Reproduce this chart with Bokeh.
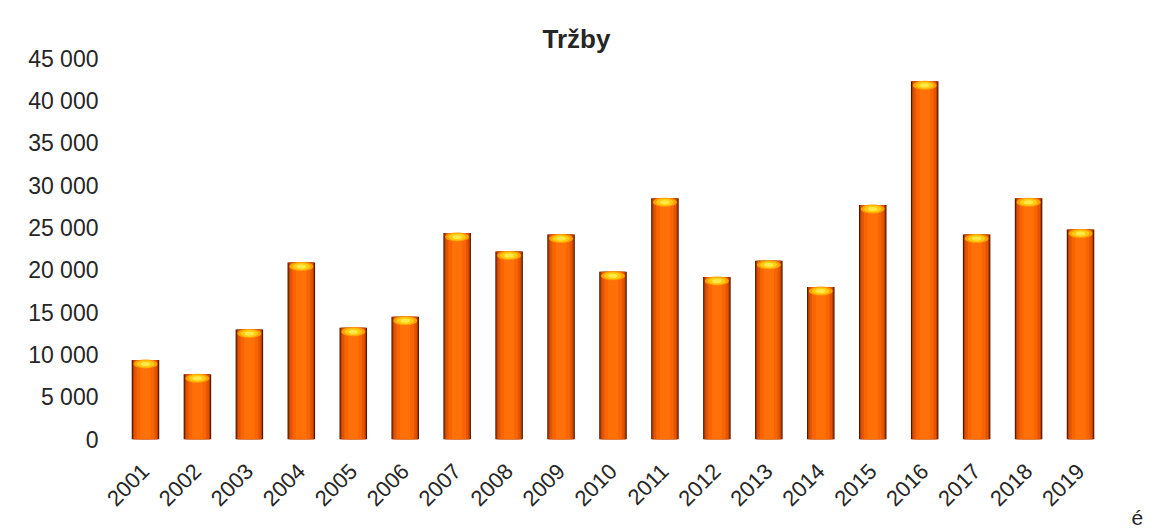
import math
from bokeh.plotting import figure
from bokeh.models import ColumnDataSource, FixedTicker, Title
from bokeh.embed import file_html
from bokeh.resources import INLINE

years = ["2001", "2002", "2003", "2004", "2005", "2006", "2007", "2008", "2009", "2010",
         "2011", "2012", "2013", "2014", "2015", "2016", "2017", "2018", "2019"]
sales = [9400, 7700, 13000, 20900, 13200, 14500, 24400, 22200, 24200, 19800,
         28500, 19200, 21100, 18000, 27700, 42300, 24200, 28500, 24800]
y_ticks = [0, 5000, 10000, 15000, 20000, 25000, 30000, 35000, 40000, 45000]
y_tick_labels = ["0", "5 000", "10 000", "15 000", "20 000", "25 000", "30 000",
                 "35 000", "40 000", "45 000"]
title_text = "Tržby"
stray_text = "é"

FONT = "Liberation Sans"
TXT = "#262626"

# cap centre slightly below bar top (data units ~ 4 px)
px = 45000 / 381.0
src = ColumnDataSource(dict(year=years, v=sales, cap=[s - 4.0 * px for s in sales]))

p = figure(x_range=years, y_range=(0, 45000), width=1150, height=530,
           output_backend="svg", toolbar_location=None,
           min_border_left=119, min_border_right=44, min_border_top=58, min_border_bottom=91)
p.background_fill_color = "white"
p.border_fill_color = "white"
p.outline_line_color = None
p.xgrid.grid_line_color = None
p.ygrid.grid_line_color = None
p.x_range.range_padding = 0

# cylinder-like bars: layered vbars
p.vbar(x="year", top="v", bottom=0, width=0.53, source=src, fill_color="#4a1800", line_color=None)
p.vbar(x="year", top="v", bottom=0, width=0.49, source=src, fill_color="#b83e00", line_color=None)
p.vbar(x="year", top="v", bottom=0, width=0.44, source=src, fill_color="#e45400", line_color=None)
p.vbar(x="year", top="v", bottom=0, width=0.34, source=src, fill_color="#f86400", line_color=None)
p.vbar(x="year", top="v", bottom=0, width=0.20, source=src, fill_color="#ff7008", line_color=None)
p.ellipse(x="year", y="cap", width=0.46, height=9, height_units="screen", source=src,
          fill_color="#ffa000", line_color=None)
p.ellipse(x="year", y="cap", width=0.34, height=7, height_units="screen", source=src,
          fill_color="#ffcc10", line_color=None)
p.ellipse(x="year", y="cap", width=0.18, height=4, height_units="screen", source=src,
          fill_color="#ffe84a", line_color=None)

p.title.text = title_text
p.title.text_font = FONT
p.title.text_font_size = "26px"
p.title.text_font_style = "bold"
p.title.text_color = TXT
p.title.align = "left"
p.title.offset = 423
p.title.standoff = 10

yax = p.yaxis[0]
yax.ticker = FixedTicker(ticks=y_ticks)
yax.major_label_overrides = {t: l for t, l in zip(y_ticks, y_tick_labels)}
yax.axis_line_color = None
yax.major_tick_line_color = None
yax.minor_tick_line_color = None
yax.major_tick_in = 0
yax.major_tick_out = 0
yax.major_label_standoff = 21
yax.major_label_text_font = FONT
yax.major_label_text_font_size = "23px"
yax.major_label_text_color = TXT

xax = p.xaxis[0]
xax.axis_line_color = None
xax.major_tick_line_color = None
xax.major_tick_in = 0
xax.major_tick_out = 0
xax.major_label_orientation = math.pi / 4
xax.major_label_standoff = 28
xax.major_label_text_font = FONT
xax.major_label_text_font_size = "22px"
xax.major_label_text_color = TXT

# stray character at the lower right corner of the reference
p.add_layout(Title(text=stray_text, align="left", offset=1012, standoff=-24,
                   text_font=FONT, text_font_size="21px", text_font_style="normal",
                   text_color=TXT), "below")

open("out.html", "w").write(file_html(p, INLINE))
